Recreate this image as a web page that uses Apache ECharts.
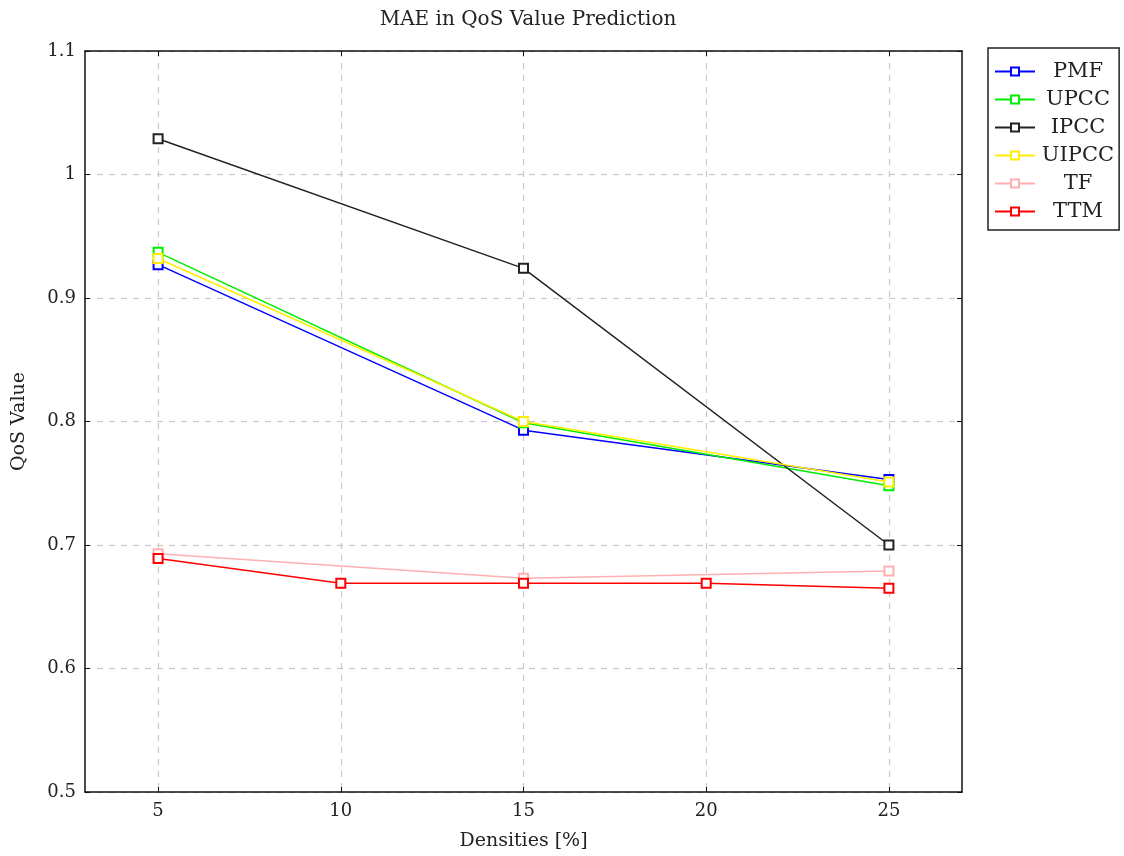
<!DOCTYPE html>
<html>
<head>
<meta charset="utf-8">
<script src="https://cdn.jsdelivr.net/npm/echarts@6/dist/echarts.min.js"></script>
<style>html,body{margin:0;padding:0;background:#fff;}#c{width:1124px;height:856px;}</style>
</head>
<body>
<div id="c"></div>
<script>
const densities = [5, 10, 15, 20, 25];
const seriesNames = ['PMF', 'UPCC', 'IPCC', 'UIPCC', 'TF', 'TTM'];
const PMF   = [0.927, null, 0.793, null, 0.753];
const UPCC  = [0.937, null, 0.799, null, 0.748];
const IPCC  = [1.029, null, 0.924, null, 0.700];
const UIPCC = [0.932, null, 0.800, null, 0.751];
const TF    = [0.693, null, 0.673, null, 0.679];
const TTM   = [0.689, 0.669, 0.669, 0.669, 0.665];
const colors = ['#0000ff', '#00ee00', '#222222', '#ffee00', '#ffb0b0', '#ff0000'];
const values = [PMF, UPCC, IPCC, UIPCC, TF, TTM];

const font = '"DejaVu Serif", "Liberation Serif", serif';
function pts(arr) {
  const out = [];
  arr.forEach((v, i) => { if (v !== null) out.push([densities[i], v]); });
  return out;
}
const series = seriesNames.map((n, k) => ({
  name: n, type: 'line', data: pts(values[k]),
  symbol: 'emptyRect', symbolSize: 9,
  lineStyle: { color: colors[k], width: 1.5 },
  itemStyle: { color: colors[k], borderWidth: 1.5 },
  z: 3 + k
}));

const chart = echarts.init(document.getElementById('c'), null, { renderer: 'canvas' });
const gridLine = { show: true, lineStyle: { color: '#c8c8c8', type: [6, 6], width: 1.2 } };
chart.setOption({
  animation: false,
  backgroundColor: '#fff',
  title: {
    text: 'MAE in QoS Value Prediction', left: 523, top: 5, textAlign: 'center',
    textStyle: { fontFamily: font, fontSize: 20, fontWeight: 'normal', color: '#222' }
  },
  legend: {
    orient: 'vertical', left: 988, top: 48, padding: [13, 5, 8, 6],
    borderColor: '#222', borderWidth: 1.5, itemGap: 7, itemWidth: 40, itemHeight: 10,
    data: seriesNames,
    formatter: n => '{a|' + n + '}',
    textStyle: { fontFamily: font, fontSize: 21, color: '#222',
      rich: { a: { fontFamily: font, fontSize: 21, color: '#222', width: 76, align: 'center' } } }
  },
  grid: { left: 85, top: 51, width: 877, height: 741, containLabel: false, outerBoundsMode: 'none' },
  xAxis: [{
    type: 'value', min: 3, max: 27,
    name: 'Densities [%]', nameLocation: 'middle', nameGap: 40,
    nameTextStyle: { fontFamily: font, fontSize: 19, color: '#222' },
    axisLine: { show: true, onZero: false, lineStyle: { color: '#111', width: 1.5 } },
    axisTick: { show: true, inside: true, length: 5, customValues: densities, lineStyle: { color: '#111' } },
    axisLabel: { customValues: densities, fontFamily: font, fontSize: 18, color: '#222', margin: 10 },
    splitLine: gridLine
  }, {
    type: 'value', min: 3, max: 27, position: 'top',
    axisLine: { show: true, onZero: false, lineStyle: { color: '#111', width: 1.5 } },
    axisTick: { show: true, inside: true, length: 5, customValues: densities, lineStyle: { color: '#111' } },
    axisLabel: { show: false }, splitLine: { show: false }
  }],
  yAxis: [{
    type: 'value', min: 0.5, max: 1.1, interval: 0.1,
    name: 'QoS Value', nameLocation: 'middle', nameGap: 56,
    nameTextStyle: { fontFamily: font, fontSize: 19, color: '#222' },
    axisLine: { show: true, onZero: false, lineStyle: { color: '#111', width: 1.5 } },
    axisTick: { show: true, inside: true, length: 5, lineStyle: { color: '#111' } },
    axisLabel: { fontFamily: font, fontSize: 18, color: '#222', margin: 9,
      formatter: v => String(Math.round(v * 10) / 10) },
    splitLine: gridLine
  }, {
    type: 'value', min: 0.5, max: 1.1, interval: 0.1, position: 'right',
    axisLine: { show: true, onZero: false, lineStyle: { color: '#111', width: 1.5 } },
    axisTick: { show: true, inside: true, length: 5, lineStyle: { color: '#111' } },
    axisLabel: { show: false }, splitLine: { show: false }
  }],
  series: series
});
</script>
</body>
</html>
